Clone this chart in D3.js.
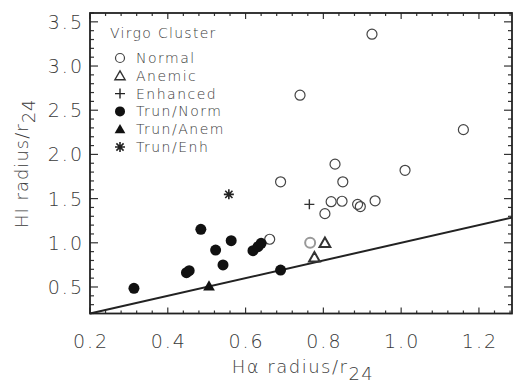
<!DOCTYPE html>
<html>
<head>
<meta charset="utf-8">
<script src="https://cdn.jsdelivr.net/npm/d3@7"></script>
<style>
  body { margin: 0; background: #fff; }
  text { font-family: "DejaVu Sans", sans-serif; font-weight: 200; fill: #3a3a3a; }
</style>
</head>
<body>
<div id="chart"></div>
<script>
// values: [Halpha radius/r24, HI radius/r24]
const normal = [
  [0.925, 3.36], [0.74, 2.67], [1.16, 2.28], [0.83, 1.89], [1.01, 1.82],
  [0.69, 1.69], [0.85, 1.69], [0.82, 1.465], [0.848, 1.47], [0.888, 1.435],
  [0.895, 1.41], [0.933, 1.475], [0.804, 1.33], [0.662, 1.04]
];
const normalGray = [[0.766, 1.0]];
const anemic = [[0.804, 1.0], [0.777, 0.836]];
const enhanced = [[0.764, 1.435]];
const trunNorm = [
  [0.313, 0.485], [0.448, 0.662], [0.455, 0.685], [0.485, 1.152], [0.523, 0.918],
  [0.563, 1.024], [0.542, 0.749], [0.619, 0.911], [0.632, 0.956], [0.64, 0.994],
  [0.69, 0.692]
];
const trunAnem = [[0.506, 0.511]];
const trunEnh = [[0.557, 1.548]];

const xTicks = [0.2, 0.4, 0.6, 0.8, 1.0, 1.2];
const yTicks = [0.5, 1.0, 1.5, 2.0, 2.5, 3.0, 3.5];
const legendLabels = ['Normal', 'Anemic', 'Enhanced', 'Trun/Norm', 'Trun/Anem', 'Trun/Enh'];

const width = 515, height = 384;
const margin = { left: 90, right: 3, top: 13, bottom: 70.5 };
const iw = width - margin.left - margin.right,
      ih = height - margin.top - margin.bottom;

const x = d3.scaleLinear().domain([0.2, 1.285]).range([0, iw]);
const y = d3.scaleLinear().domain([0.2, 3.6]).range([ih, 0]);

const svg = d3.select('#chart').append('svg')
  .attr('width', width)
  .attr('height', height);

const g = svg.append('g').attr('transform', `translate(${margin.left},${margin.top})`);

// ticks on all four sides, pointing inward
const xMinor = d3.range(0.2, 1.2851, 0.04).filter(v => !xTicks.some(t => Math.abs(t - v) < 1e-6));
const yMinor = d3.range(0.2, 3.6001, 0.1).filter(v => !yTicks.some(t => Math.abs(t - v) < 1e-6));

const tickG = g.append('g').attr('stroke', '#333').attr('stroke-width', 1.2);
xTicks.forEach(v => {
  tickG.append('line').attr('x1', x(v)).attr('x2', x(v)).attr('y1', ih).attr('y2', ih - 6);
  tickG.append('line').attr('x1', x(v)).attr('x2', x(v)).attr('y1', 0).attr('y2', 6);
});
xMinor.forEach(v => {
  tickG.append('line').attr('x1', x(v)).attr('x2', x(v)).attr('y1', ih).attr('y2', ih - 3);
  tickG.append('line').attr('x1', x(v)).attr('x2', x(v)).attr('y1', 0).attr('y2', 3);
});
yTicks.forEach(v => {
  tickG.append('line').attr('x1', 0).attr('x2', 8).attr('y1', y(v)).attr('y2', y(v));
  tickG.append('line').attr('x1', iw).attr('x2', iw - 8).attr('y1', y(v)).attr('y2', y(v));
});
yMinor.forEach(v => {
  tickG.append('line').attr('x1', 0).attr('x2', 4).attr('y1', y(v)).attr('y2', y(v));
  tickG.append('line').attr('x1', iw).attr('x2', iw - 4).attr('y1', y(v)).attr('y2', y(v));
});

g.append('rect')
  .attr('width', iw).attr('height', ih)
  .attr('fill', 'none').attr('stroke', '#222').attr('stroke-width', 1.8);

// tick labels
g.selectAll('.xl').data(xTicks).enter().append('text')
  .attr('x', d => x(d) + 1).attr('y', ih + 34)
  .attr('text-anchor', 'middle').style('font-size', '19px').style('letter-spacing', '2px')
  .text(d => d3.format('.1f')(d));

g.selectAll('.yl').data(yTicks).enter().append('text')
  .attr('x', -6).attr('y', d => y(d) + 7)
  .attr('text-anchor', 'end').style('font-size', '19px').style('letter-spacing', '2px')
  .text(d => d3.format('.1f')(d));

// axis titles
const xt = svg.append('text')
  .attr('x', margin.left + iw / 2 + 2).attr('y', 373)
  .attr('text-anchor', 'middle').style('font-size', '18px').style('letter-spacing', '1.5px');
xt.append('tspan').text('H\u03b1 radius/r');
xt.append('tspan').attr('dy', 7).text('24');

const yt = svg.append('text')
  .attr('transform', `translate(28,${margin.top + ih / 2}) rotate(-90)`)
  .attr('text-anchor', 'middle').style('font-size', '18px').style('letter-spacing', '1px');
yt.append('tspan').text('HI radius/r');
yt.append('tspan').attr('dy', 7).text('24');

// y = x line
g.append('line')
  .attr('x1', x(0.2)).attr('y1', y(0.2))
  .attr('x2', x(1.285)).attr('y2', y(1.285))
  .attr('stroke', '#222').attr('stroke-width', 2);

// symbols
const tri = d3.symbol().type(d3.symbolTriangle).size(50);
const plusPath = 'M-5,0H5M0,-5V5';
const starPath = 'M-5,0H5M0,-5V5M-3.6,-3.6L3.6,3.6M-3.6,3.6L3.6,-3.6';

g.selectAll('.normal').data(normal).enter().append('circle')
  .attr('cx', d => x(d[0])).attr('cy', d => y(d[1])).attr('r', 5)
  .attr('fill', 'none').attr('stroke', '#444').attr('stroke-width', 1.2);

g.selectAll('.normalGray').data(normalGray).enter().append('circle')
  .attr('cx', d => x(d[0])).attr('cy', d => y(d[1])).attr('r', 5)
  .attr('fill', 'none').attr('stroke', '#999').attr('stroke-width', 2);

g.selectAll('.anemic').data(anemic).enter().append('path')
  .attr('d', tri)
  .attr('transform', d => `translate(${x(d[0])},${y(d[1]) + 1})`)
  .attr('fill', 'none').attr('stroke', '#333').attr('stroke-width', 2);

g.selectAll('.enh').data(enhanced).enter().append('path')
  .attr('d', plusPath)
  .attr('transform', d => `translate(${x(d[0])},${y(d[1])})`)
  .attr('stroke', '#333').attr('stroke-width', 1.4);

g.selectAll('.tn').data(trunNorm).enter().append('circle')
  .attr('cx', d => x(d[0])).attr('cy', d => y(d[1])).attr('r', 5.5)
  .attr('fill', '#111');

g.selectAll('.ta').data(trunAnem).enter().append('path')
  .attr('d', d3.symbol().type(d3.symbolTriangle).size(60))
  .attr('transform', d => `translate(${x(d[0])},${y(d[1]) + 1})`)
  .attr('fill', '#111');

g.selectAll('.te').data(trunEnh).enter().append('path')
  .attr('d', starPath)
  .attr('transform', d => `translate(${x(d[0])},${y(d[1])})`)
  .attr('stroke', '#222').attr('stroke-width', 1.6);

// legend
const leg = svg.append('g').attr('transform', 'translate(110,0)');
leg.append('text').attr('x', 0).attr('y', 38).style('font-size', '14px')
  .style('letter-spacing', '1.3px').text('Virgo Cluster');

const rowY = i => 58 + i * 17.8;
leg.append('circle').attr('cx', 10).attr('cy', rowY(0)).attr('r', 4.5)
  .attr('fill', 'none').attr('stroke', '#444').attr('stroke-width', 1.2);
leg.append('path').attr('d', d3.symbol().type(d3.symbolTriangle).size(45))
  .attr('transform', `translate(10,${rowY(1) + 1})`)
  .attr('fill', 'none').attr('stroke', '#333').attr('stroke-width', 1.4);
leg.append('path').attr('d', plusPath)
  .attr('transform', `translate(10,${rowY(2)})`).attr('stroke', '#222').attr('stroke-width', 1.4);
leg.append('circle').attr('cx', 10).attr('cy', rowY(3)).attr('r', 5).attr('fill', '#111');
leg.append('path').attr('d', d3.symbol().type(d3.symbolTriangle).size(50))
  .attr('transform', `translate(10,${rowY(4) + 1})`).attr('fill', '#111');
leg.append('path').attr('d', starPath)
  .attr('transform', `translate(10,${rowY(5)})`).attr('stroke', '#222').attr('stroke-width', 1.6);

leg.selectAll('.lt').data(legendLabels).enter().append('text')
  .attr('x', 26).attr('y', (d, i) => rowY(i) + 5)
  .style('font-size', '14px').style('letter-spacing', '1.5px')
  .text(d => d);
</script>
</body>
</html>
